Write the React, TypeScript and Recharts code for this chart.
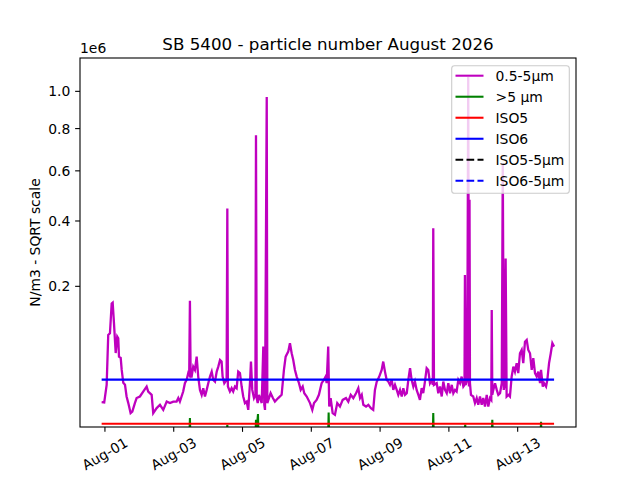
import React from 'react';
import { LineChart, Line, XAxis, YAxis } from 'recharts';

// ---- data (hours from 2026-08-01 00:00) ----
const TIME_FINE: number[] = [
  -2.3, -0.5, 1.2, 2.3, 3.5, 4.7, 5.4, 6.3, 7.5, 8.6, 9.3, 9.8, 11.0, 11.7, 12.8, 14.0, 15.1, 16.3, 17.9, 19.1,
  20.9, 22.1, 24.4, 26.7, 29.1, 30.2, 32.6, 33.7, 36.1, 38.4, 40.7, 43.1, 45.4, 47.7, 50.0, 51.2, 52.3, 54.6, 55.8, 57.0,
  58.1, 58.8, 59.3, 59.8, 60.5, 61.6, 62.8, 64.0, 65.1, 66.3, 67.5, 68.6, 69.8, 71.0, 72.1, 73.3, 74.5, 75.6, 76.8, 78.0,
  79.1, 80.3, 81.4, 82.1, 83.3, 84.9, 85.4, 85.8, 87.2, 88.4, 89.5, 90.7, 91.9, 93.0, 94.2, 95.4, 96.5, 97.7, 98.9, 100.0,
  101.2, 101.9, 102.8, 104.0, 105.0, 105.4, 105.9, 106.6, 107.5, 109.4, 110.5, 111.2, 111.7, 112.9, 113.3, 115.6, 117.2, 118.6, 120.9, 123.3,
  124.9, 126.1, 127.9, 129.1, 130.3, 131.4, 132.6, 133.8, 135.4, 136.6, 138.0, 139.1, 140.8, 143.1, 144.7, 145.9, 147.7, 149.3, 151.2, 152.8,
  154.0, 154.7, 155.8, 156.5, 157.5, 158.9, 160.5, 162.1, 164.0, 165.9, 168.2, 169.8, 171.5, 173.3, 175.2, 176.8, 178.0, 179.2, 180.3, 182.2,
  183.8, 185.6, 187.2, 188.4, 189.6, 191.4, 193.1, 194.2, 195.4, 196.6, 197.7, 198.9, 200.1, 201.2, 202.4, 203.6, 204.7, 205.9, 207.1, 208.2,
  209.4, 210.6, 211.7, 212.9, 214.0, 215.2, 216.3, 217.5, 218.7, 219.8, 221.0, 222.1, 223.3, 224.5, 225.6, 226.8, 228.0, 228.8, 229.1, 229.6,
  231.5, 232.6, 233.8, 235.0, 236.1, 237.3, 238.5, 239.6, 240.8, 242.0, 243.1, 244.3, 245.4, 246.6, 247.8, 248.9, 250.1, 250.9, 251.2, 251.7,
  252.8, 253.5, 254.0, 254.4, 254.7, 255.4, 257.0, 258.2, 259.4, 260.5, 261.7, 262.9, 264.0, 265.2, 266.4, 267.5, 268.7, 269.6, 269.9, 270.3,
  271.0, 272.2, 273.4, 274.5, 275.7, 276.9, 277.6, 278.3, 279.0, 279.6, 280.3, 281.5, 282.6, 283.8, 285.0, 286.1, 287.3, 288.4, 289.6, 290.8,
  291.9, 293.1, 294.3, 295.4, 296.6, 297.8, 298.9, 300.1, 301.3, 302.4, 303.6, 304.3, 305.5, 306.4, 307.8, 308.7, 309.9, 311.1, 312.2, 313.4,
];

const VAL_FINE: number[] = [
  14100, 13900, 28200, 95700, 98700, 159000, 161000, 118000, 66600, 92800, 90000, 61500, 59600, 44200, 30100, 28200, 18200, 13500, 7700, 8500,
  13500, 17000, 18200, 22200, 26600, 22200, 19500, 7700, 10400, 12400, 9400, 14500, 13500, 14500, 14500, 17000, 14500, 22200, 29800, 33100,
  40400, 38500, 165000, 36600, 36600, 48200, 44200, 61500, 36600, 23600, 19500, 25100, 18200, 23600, 29800, 36600, 42200, 33100, 31400, 42200,
  48200, 56900, 54700, 36600, 29800, 33100, 446000, 26600, 22200, 25100, 22200, 26600, 25100, 42200, 40400, 26600, 18200, 13500, 14500, 9400,
  29800, 54700, 23600, 17000, 19500, 766000, 17000, 13500, 19500, 13500, 76300, 12400, 9400, 968000, 13500, 20800, 17000, 14500, 17000, 19500,
  44200, 61500, 68700, 81700, 66300, 56900, 44200, 36600, 29800, 23600, 26600, 20800, 18200, 13500, 9400, 13500, 15700, 19500, 29800, 33100,
  36600, 29800, 76300, 11300, 17000, 7700, 6900, 13500, 11300, 15700, 17000, 14500, 19500, 17000, 20800, 25100, 17000, 19500, 12400, 11300,
  12400, 10400, 9400, 23600, 30900, 36600, 44200, 54700, 42200, 33100, 31400, 28200, 33100, 23600, 28200, 23600, 19500, 23600, 18200, 25100,
  19500, 20800, 33100, 46300, 33100, 26600, 31400, 23600, 19500, 15700, 25100, 20800, 31400, 46300, 44200, 29800, 33100, 28200, 374000, 28200,
  29800, 20800, 26600, 18200, 31400, 23600, 20800, 29800, 20800, 28200, 20800, 23600, 22200, 33100, 29800, 36600, 26600, 28200, 230000, 28200,
  33100, 1083000, 26600, 480000, 30000, 19500, 18200, 13500, 17000, 12400, 18200, 12400, 17000, 11300, 19500, 11300, 17000, 15700, 144500, 19500,
  23600, 29800, 23600, 19500, 20800, 29800, 633000, 23600, 28200, 277000, 18200, 19500, 18200, 36600, 48200, 42200, 52600, 40400, 66300, 71200,
  52600, 84300, 87200, 71200, 66300, 44200, 59300, 40400, 36600, 42200, 29800, 44200, 26600, 29800, 26600, 33100, 52600, 66300, 81700, 76300,
];

const TIME_COARSE: number[] = [
  -2.3, 59.0, 59.3, 59.6, 85.1, 85.4, 85.7, 105.1, 105.4, 105.8, 106.8, 107.1, 155.8, 156.1, 156.4,
  228.8, 229.1, 229.4, 251.1, 251.4, 251.7, 270.0, 270.3, 270.6, 304.0, 304.3, 304.6, 313.4,
];
const VAL_COARSE: number[] = [
  1000, 1000, 5400, 1000, 1000, 3000, 1000, 1000, 4700, 1500, 7200, 1000, 1000, 8000, 1000,
  1000, 7700, 1000, 1000, 3100, 1000, 1000, 4700, 1000, 1000, 4000, 1000, 1000,
];

const LIMIT_TIMES: number[] = [-2.3, 313.4];
const ISO5 = 3300;
const ISO6 = 33400;
const ISO5_5UM = 29;
const ISO6_5UM = 293;

const X_DOMAIN: [number, number] = [-17.4, 328.7];
const X_TICKS: number[] = [0, 48, 96, 144, 192, 240, 288];
const X_TICK_LABELS: string[] = ['Aug-01', 'Aug-03', 'Aug-05', 'Aug-07', 'Aug-09', 'Aug-11', 'Aug-13'];
const Y_DOMAIN: [number, number] = [2343, 1198000];
const Y_TICKS: number[] = [200000, 400000, 600000, 800000, 1000000];

const SERIES_NAMES: string[] = ['0.5-5µm', '>5 µm', 'ISO5', 'ISO6', 'ISO5-5µm', 'ISO6-5µm'];
const SERIES_COLORS: string[] = ['#bf00bf', '#008000', '#ff0000', '#0000ff', '#000000', '#0000ff'];
const SERIES_DASHED: boolean[] = [false, false, false, false, true, true];

const toPoints = (ts: number[], vs: number[]) => ts.map((t, i) => ({ t, v: vs[i] }));
const flat = (ts: number[], v: number) => ts.map((t) => ({ t, v }));

const fineData = toPoints(TIME_FINE, VAL_FINE);
const coarseData = toPoints(TIME_COARSE, VAL_COARSE);
const iso5Data = flat(LIMIT_TIMES, ISO5);
const iso6Data = flat(LIMIT_TIMES, ISO6);
const iso55Data = flat(LIMIT_TIMES, ISO5_5UM);
const iso65Data = flat(LIMIT_TIMES, ISO6_5UM);

const FONT = 'DejaVu Sans, sans-serif';
const LW = 2.08;

const XTick = (props: any) => {
  const { x, y, payload } = props;
  const idx = X_TICKS.indexOf(payload.value);
  const label = idx >= 0 ? X_TICK_LABELS[idx] : String(payload.value);
  return (
    <g transform={`translate(${x},${y + 22})`}>
      <text x={0} y={0} dy="0.35em" textAnchor="middle" transform="rotate(-30)" fontSize={13.9} fill="#000" fontFamily={FONT}>
        {label}
      </text>
    </g>
  );
};

const YLabel = (props: any) => {
  const vb = props.viewBox || { x: 0, y: 58, width: 80, height: 369 };
  const cx = vb.x + 35;
  const cy = vb.y + vb.height / 2;
  return (
    <text x={cx} y={cy} dy="0.35em" textAnchor="middle" transform={`rotate(-90, ${cx}, ${cy})`} fontSize={13.9} fill="#000" fontFamily={FONT}>
      N/m3 - SQRT scale
    </text>
  );
};

const Overlay = () => {
  const lx = 451.7;
  const ly = 65.7;
  return (
    <svg width={640} height={480} style={{ position: 'absolute', left: 0, top: 0, pointerEvents: 'none' }} fontFamily={FONT}>
      <rect x={80} y={58} width={496} height={369} fill="none" stroke="#000" strokeWidth={1.1} />
      <text x={328} y={49.7} textAnchor="middle" fontSize={16.7} fill="#000">SB 5400 - particle number August 2026</text>
      <text x={80} y={53.3} textAnchor="start" fontSize={13.9} fill="#000">1e6</text>
      <text x={328} y={491} textAnchor="middle" fontSize={13.9} fill="#000">date/time (local)</text>
      <rect x={lx} y={ly} width={117.6} height={127.6} rx={2.8} fill="#ffffff" fillOpacity={0.8} stroke="#cccccc" strokeWidth={1.1} />
      {SERIES_NAMES.map((name, i) => {
        const yy = 75.7 + 21.02 * i;
        return (
          <g key={name}>
            <line x1={455.5} x2={483.5} y1={yy} y2={yy} stroke={SERIES_COLORS[i]} strokeWidth={LW} strokeDasharray={SERIES_DASHED[i] ? '7.7 3.3' : undefined} />
            <text x={495.5} y={yy + 5} fontSize={13.9} fill="#000">{name}</text>
          </g>
        );
      })}
    </svg>
  );
};

export default function App() {
  return (
    <div style={{ position: 'absolute', left: 0, top: 0, width: 640, height: 480, background: '#fff', overflow: 'hidden' }}>
      <LineChart width={640} height={480} margin={{ top: 58, right: 64, bottom: 0, left: 0 }} style={{ fontFamily: FONT }}>
        <XAxis
          dataKey="t"
          type="number"
          domain={X_DOMAIN}
          allowDataOverflow
          ticks={X_TICKS}
          interval={0}
          height={53}
          tick={<XTick />}
          tickSize={4.86}
          tickMargin={0}
          axisLine={false}
          tickLine={{ stroke: '#000', strokeWidth: 1.1 }}
        />
        <YAxis
          dataKey="v"
          type="number"
          scale="sqrt"
          domain={Y_DOMAIN}
          allowDataOverflow
          ticks={Y_TICKS}
          interval={0}
          width={80}
          tickFormatter={(v: number) => (v / 1e6).toFixed(1)}
          tick={{ fill: '#000', fontSize: 13.9, fontFamily: FONT }}
          tickSize={4.86}
          tickMargin={4.86}
          axisLine={false}
          tickLine={{ stroke: '#000', strokeWidth: 1.1 }}
          label={<YLabel />}
        />
        <Line data={fineData} dataKey="v" name={SERIES_NAMES[0]} stroke={SERIES_COLORS[0]} strokeWidth={2.3} dot={false} isAnimationActive={false} type="linear" />
        <Line data={coarseData} dataKey="v" name={SERIES_NAMES[1]} stroke={SERIES_COLORS[1]} strokeWidth={LW} dot={false} isAnimationActive={false} type="linear" />
        <Line data={iso5Data} dataKey="v" name={SERIES_NAMES[2]} stroke={SERIES_COLORS[2]} strokeWidth={LW} dot={false} isAnimationActive={false} type="linear" />
        <Line data={iso6Data} dataKey="v" name={SERIES_NAMES[3]} stroke={SERIES_COLORS[3]} strokeWidth={LW} dot={false} isAnimationActive={false} type="linear" />
        <Line data={iso55Data} dataKey="v" name={SERIES_NAMES[4]} stroke={SERIES_COLORS[4]} strokeWidth={LW} strokeDasharray="7.7 3.3" dot={false} isAnimationActive={false} type="linear" />
        <Line data={iso65Data} dataKey="v" name={SERIES_NAMES[5]} stroke={SERIES_COLORS[5]} strokeWidth={LW} strokeDasharray="7.7 3.3" dot={false} isAnimationActive={false} type="linear" />
      </LineChart>
      <Overlay />
    </div>
  );
}
